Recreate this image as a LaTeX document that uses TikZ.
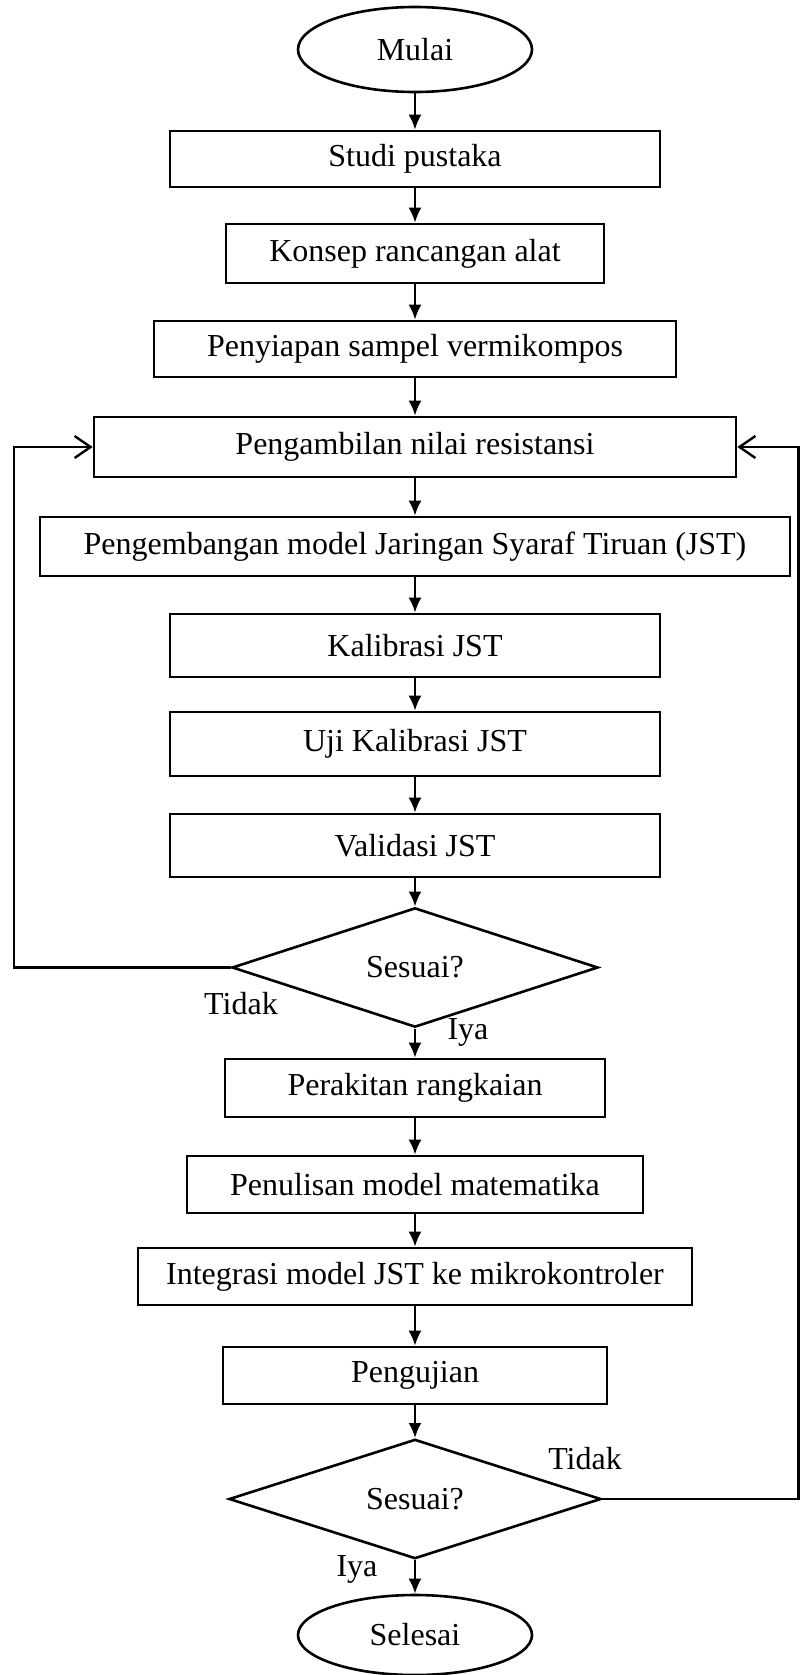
\documentclass[tikz,border=0pt]{standalone}
\usepackage{fontspec}
\setmainfont{Liberation Serif}
\usetikzlibrary{shapes.geometric,arrows.meta}
\begin{document}
\begin{tikzpicture}[x=0.5pt,y=-0.5pt,
  every node/.style={font=\fontsize{16}{19}\selectfont, inner sep=0pt},
  procbox/.style={draw, line width=1.3pt, rectangle},
  termbox/.style={draw, line width=1.3pt, ellipse, minimum width=117pt, minimum height=42.5pt},
  decbox/.style={draw, line width=1.3pt, diamond},
  flow/.style={line width=1.2pt, -{Latex[length=7.5pt,width=6.5pt]}},
  loopline/.style={line width=1.2pt, -{Straight Barb[length=8pt,width=11pt,line width=1.2pt]}},
  lbl/.style={font=\fontsize{16}{19}\selectfont}
]
\useasboundingbox (0,0) rectangle (800,1675);

\node[termbox] (mulai) at (415,49.5) {Mulai};
\node[procbox, minimum width=245pt, minimum height=28pt] (studi) at (415,159) {Studi pustaka};
\node[procbox, minimum width=189pt, minimum height=29.5pt] (konsep) at (415,253.5) {Konsep rancangan alat};
\node[procbox, minimum width=261pt, minimum height=28pt] (siap) at (415,349) {Penyiapan sampel vermikompos};
\node[procbox, minimum width=321pt, minimum height=30pt] (ambil) at (415,447) {Pengambilan nilai resistansi};
\node[procbox, minimum width=375pt, minimum height=29.5pt] (kembang) at (415,546.5) {Pengembangan model Jaringan Syaraf Tiruan (JST)};
\node[procbox, minimum width=245pt, minimum height=31.5pt] (kalib) at (415,645.5) {Kalibrasi JST};
\node[procbox, minimum width=245pt, minimum height=32pt] (uji) at (415,744) {Uji Kalibrasi JST};
\node[procbox, minimum width=245pt, minimum height=31.5pt] (valid) at (415,845.5) {Validasi JST};
\node[decbox, minimum width=183pt, minimum height=50.5pt] (d1) at (415,967.5) {Sesuai?};
\node[procbox, minimum width=190pt, minimum height=29pt] (rakit) at (415,1088) {Perakitan rangkaian};
\node[procbox, minimum width=228pt, minimum height=28.5pt] (tulis) at (415,1184.5) {Penulisan model matematika};
\node[procbox, minimum width=277pt, minimum height=28.5pt] (integ) at (415,1276.5) {Integrasi model JST ke mikrokontroler};
\node[procbox, minimum width=192pt, minimum height=28.5pt] (uji2) at (415,1375.5) {Pengujian};
\node[decbox, minimum width=186pt, minimum height=51pt] (d2) at (415,1499) {Sesuai?};
\node[termbox, minimum height=40pt] (selesai) at (415,1635) {Selesai};

\node[lbl] (t1) at (241,1004) {Tidak};
\node[lbl] (i1) at (468,1032) {Iya};
\node[lbl] (t2) at (585,1459) {Tidak};
\node[lbl] (i2) at (357,1569) {Iya};

\draw[flow] (mulai.south) -- (studi.north);
\draw[flow] (studi.south) -- (konsep.north);
\draw[flow] (konsep.south) -- (siap.north);
\draw[flow] (siap.south) -- (ambil.north);
\draw[flow] (ambil.south) -- (kembang.north);
\draw[flow] (kembang.south) -- (kalib.north);
\draw[flow] (kalib.south) -- (uji.north);
\draw[flow] (uji.south) -- (valid.north);
\draw[flow] (valid.south) -- (d1.north);
\draw[flow] (d1.south) -- (rakit.north);
\draw[flow] (rakit.south) -- (tulis.north);
\draw[flow] (tulis.south) -- (integ.north);
\draw[flow] (integ.south) -- (uji2.north);
\draw[flow] (uji2.south) -- (d2.north);
\draw[flow] (d2.south) -- (selesai.north);

\coordinate (L) at (14,967.5);
\coordinate (R) at (798.5,1499);
\draw[loopline] (d1.west) -- (L) |- (ambil.west);
\draw[loopline] (d2.east) -- (R) |- (ambil.east);
\end{tikzpicture}
\end{document}
